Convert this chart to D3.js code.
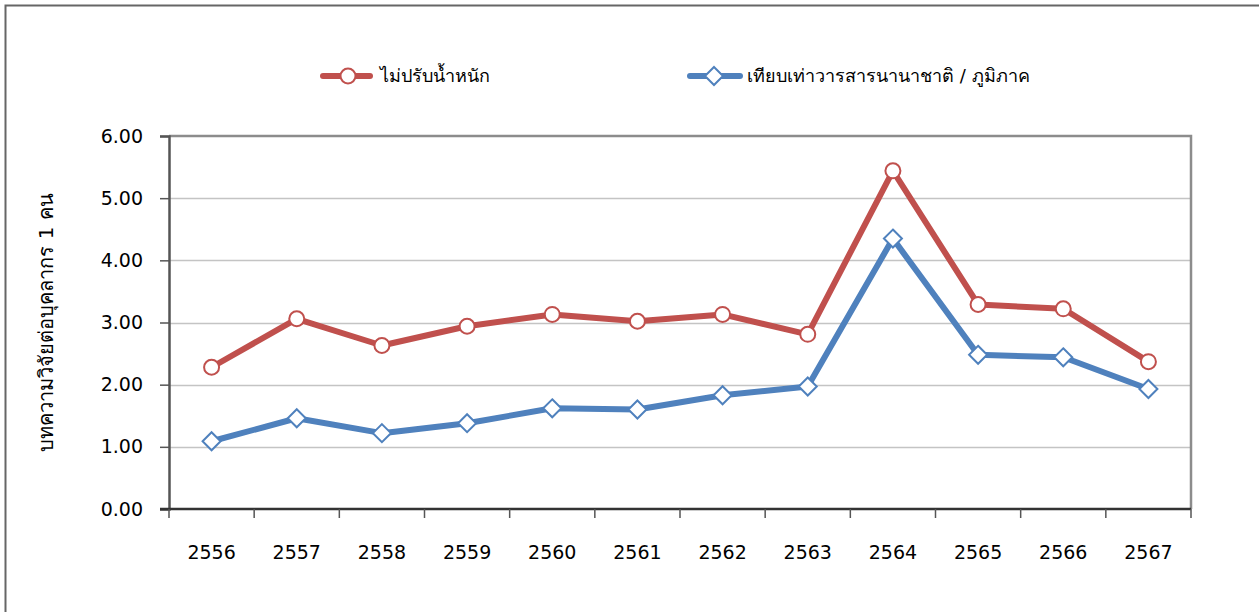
<!DOCTYPE html>
<html>
<head>
<meta charset="utf-8">
<script src="https://cdn.jsdelivr.net/npm/d3@7"></script>
<style>
  html, body { margin: 0; padding: 0; background: #fff; }
  svg { display: block; }
  text { font-family: "DejaVu Sans", "Noto Sans", sans-serif; fill: #000; }
</style>
</head>
<body>
<svg id="chart" width="1259" height="612"></svg>
<script>
const years = ["2556","2557","2558","2559","2560","2561","2562","2563","2564","2565","2566","2567"];
const unadjusted = [2.28, 3.06, 2.63, 2.94, 3.13, 3.02, 3.13, 2.81, 5.44, 3.29, 3.22, 2.37];
const weighted = [1.09, 1.46, 1.22, 1.38, 1.62, 1.60, 1.83, 1.97, 4.35, 2.48, 2.44, 1.93];
const yTicks = [0, 1, 2, 3, 4, 5, 6];
const seriesNames = ["ไม่ปรับน้ำหนัก", "เทียบเท่าวารสารนานาชาติ / ภูมิภาค"];
const yTitle = "บทความวิจัยต่อบุคลากร 1 คน";

const svg = d3.select("#chart");
const W = 1259, H = 612;
const plot = { left: 169, right: 1191, top: 136, bottom: 509 };

// outer frame (cropped at right/bottom)
svg.append("path")
  .attr("d", `M5.5,${H + 2} L5.5,5.5 L${W + 2},5.5`)
  .attr("fill", "none").attr("stroke", "#666").attr("stroke-width", 2);

const x = d3.scaleBand().domain(years).range([plot.left, plot.right]).paddingInner(0).paddingOuter(0);
const y = d3.scaleLinear().domain([0, 6]).range([plot.bottom, plot.top]);

// gridlines
svg.append("g").selectAll("line").data(yTicks.filter(d => d > 0 && d < 6)).join("line")
  .attr("x1", plot.left).attr("x2", plot.right)
  .attr("y1", d => Math.round(y(d)) + 0.5).attr("y2", d => Math.round(y(d)) + 0.5)
  .attr("stroke", "#c4c4c4").attr("stroke-width", 1.3);

// plot area top/right border
svg.append("path")
  .attr("d", `M${plot.left},${plot.top} L${plot.right},${plot.top} L${plot.right},${plot.bottom}`)
  .attr("fill", "none").attr("stroke", "#8c8c8c").attr("stroke-width", 2.5);

// y axis
const yAxis = d3.axisLeft(y).tickValues(yTicks).tickFormat(d3.format(".2f")).tickSize(9).tickPadding(17);
const gy = svg.append("g").attr("transform", `translate(${plot.left},0)`).call(yAxis);
gy.select(".domain").attr("stroke", "#555").attr("stroke-width", 2.5);
gy.selectAll(".tick line").attr("stroke", "#555").attr("stroke-width", 1.5);
gy.selectAll(".tick text").attr("font-size", 19).attr("font-family", "DejaVu Sans").attr("fill", "#000");

// x axis: ticks at band boundaries
const gx = svg.append("g").attr("transform", `translate(0,${plot.bottom})`);
gx.append("line").attr("x1", plot.left - 9).attr("x2", plot.right)
  .attr("y1", 0).attr("y2", 0).attr("stroke", "#333").attr("stroke-width", 2.5);
const boundaries = years.map(d => x(d)).concat([x(years[years.length - 1]) + x.bandwidth()]);
gx.selectAll("line.tk").data(boundaries).join("line").attr("class", "tk")
  .attr("x1", d => d).attr("x2", d => d).attr("y1", 0).attr("y2", 9)
  .attr("stroke", "#555").attr("stroke-width", 1.5);
gx.selectAll("text").data(years).join("text")
  .attr("x", d => x(d) + x.bandwidth() / 2).attr("y", 50)
  .attr("text-anchor", "middle").attr("font-size", 19).text(d => d);

// y title
svg.append("text")
  .attr("transform", `translate(53,${(plot.top + plot.bottom) / 2}) rotate(-90)`)
  .attr("text-anchor", "middle").attr("font-size", 20).text(yTitle);

const cx = d => x(d) + x.bandwidth() / 2;
const line = d3.line().x(d => cx(d.year)).y(d => y(d.v));

const series = [
  { name: seriesNames[0], values: unadjusted, color: "#C0504D", marker: "circle" },
  { name: seriesNames[1], values: weighted, color: "#4F81BD", marker: "diamond" }
];

function drawMarker(g, type, color) {
  if (type === "circle") {
    g.append("circle").attr("r", 7.5).attr("fill", "#fff").attr("stroke", color).attr("stroke-width", 2);
  } else {
    g.append("path").attr("d", "M0,-9 L9,0 L0,9 L-9,0 Z").attr("fill", "#fff").attr("stroke", color).attr("stroke-width", 2);
  }
}

series.forEach(s => {
  const data = years.map((yr, i) => ({ year: yr, v: s.values[i] }));
  svg.append("path").datum(data).attr("d", line)
    .attr("fill", "none").attr("stroke", s.color).attr("stroke-width", 6)
    .attr("stroke-linejoin", "round").attr("stroke-linecap", "round");
  svg.append("g").selectAll("g").data(data).join("g")
    .attr("transform", d => `translate(${cx(d.year)},${y(d.v)})`)
    .each(function() { drawMarker(d3.select(this), s.marker, s.color); });
});

// legend
const legendItems = [
  { s: series[0], x0: 323, x1: 370, mx: 348, tx: 380 },
  { s: series[1], x0: 690, x1: 740, mx: 714, tx: 747 }
];
const ly = 76;
legendItems.forEach(li => {
  const g = svg.append("g");
  g.append("line").attr("x1", li.x0).attr("x2", li.x1).attr("y1", ly).attr("y2", ly)
    .attr("stroke", li.s.color).attr("stroke-width", 6).attr("stroke-linecap", "round");
  const m = g.append("g").attr("transform", `translate(${li.mx},${ly})`);
  drawMarker(m, li.s.marker, li.s.color);
  g.append("text").attr("x", li.tx).attr("y", ly + 6).attr("font-size", 18).text(li.s.name);
});
</script>
</body>
</html>
